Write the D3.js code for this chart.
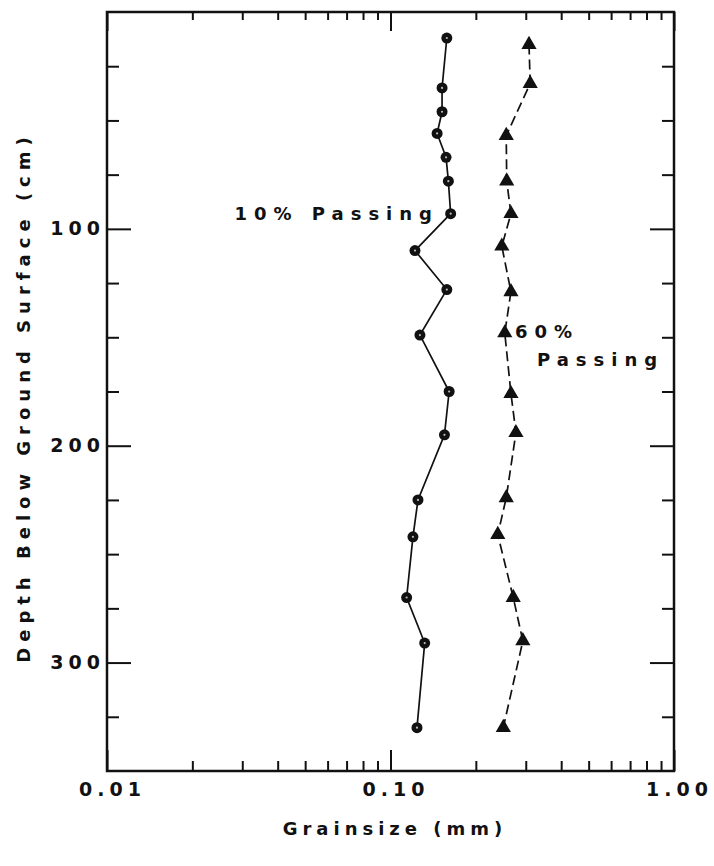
<!DOCTYPE html>
<html>
<head>
<meta charset="utf-8">
<script src="https://cdn.jsdelivr.net/npm/d3@7"></script>
<style>
  body { margin: 0; background: #fff; }
  svg text { font-family: "DejaVu Sans", sans-serif; font-weight: bold; fill: #111; }
</style>
</head>
<body>
<svg id="chart" width="714" height="866"></svg>
<script>
// 10% passing (circles)
const depth10 = [12, 35, 46, 56, 67, 78, 93, 110, 128, 149, 175, 195, 225, 242, 270, 291, 330];
const grain10 = [0.158, 0.152, 0.152, 0.146, 0.157, 0.160, 0.163, 0.122, 0.158, 0.127, 0.161, 0.155, 0.125, 0.120, 0.114, 0.132, 0.124];
// 60% passing (triangles)
const depth60 = [15, 33, 57, 78, 93, 108, 129, 148, 176, 194, 224, 241, 270, 290, 330];
const grain60 = [0.308, 0.311, 0.256, 0.257, 0.266, 0.247, 0.266, 0.253, 0.266, 0.277, 0.256, 0.239, 0.271, 0.293, 0.250];

const xMajor = [0.01, 0.1, 1];
const xLabels = ["0.01", "0.10", "1.00"];
const xMinor = [0.02, 0.03, 0.04, 0.05, 0.06, 0.07, 0.08, 0.09, 0.2, 0.3, 0.4, 0.5, 0.6, 0.7, 0.8, 0.9];
const yMajor = [100, 200, 300];
const yMinor = [25, 50, 75, 125, 150, 175, 225, 250, 275, 325];

const svg = d3.select("#chart");
const plotL = 107, plotR = 674, plotT = 12, plotB = 771;

const x = d3.scaleLog().domain([0.01, 1]).range([plotL, plotR]);
const y = d3.scaleLinear().domain([0, 350]).range([plotT, plotB]);

// frame
svg.append("rect")
  .attr("x", plotL).attr("y", plotT).attr("width", plotR - plotL).attr("height", plotB - plotT)
  .attr("fill", "none").attr("stroke", "#111").attr("stroke-width", 2.5);

const styleAxis = g => {
  g.select(".domain").remove();
  g.selectAll(".tick line").attr("stroke", "#111").attr("stroke-width", 2);
  g.attr("font-family", null).attr("font-size", null);
};

// bottom axis
svg.append("g").attr("transform", `translate(0,${plotB})`)
  .call(d3.axisBottom(x).tickValues(xMajor).tickSize(-21).tickPadding(12)
    .tickFormat((d, i) => xLabels[i]))
  .call(styleAxis)
  .selectAll("text").attr("font-size", 19).attr("letter-spacing", 5).attr("dx", 5);
svg.append("g").attr("transform", `translate(0,${plotB})`)
  .call(d3.axisBottom(x).tickValues(xMinor).tickSize(-10).tickFormat(""))
  .call(styleAxis);

// top axis
svg.append("g").attr("transform", `translate(0,${plotT})`)
  .call(d3.axisTop(x).tickValues(xMajor).tickSize(-19).tickFormat(""))
  .call(styleAxis);
svg.append("g").attr("transform", `translate(0,${plotT})`)
  .call(d3.axisTop(x).tickValues(xMinor).tickSize(-8).tickFormat(""))
  .call(styleAxis);

// left axis
svg.append("g").attr("transform", `translate(${plotL},0)`)
  .call(d3.axisLeft(y).tickValues(yMajor).tickSize(-24).tickPadding(2))
  .call(styleAxis)
  .selectAll("text").attr("font-size", 19).attr("letter-spacing", 5);
svg.append("g").attr("transform", `translate(${plotL},0)`)
  .call(d3.axisLeft(y).tickValues(yMinor).tickSize(-12).tickFormat(""))
  .call(styleAxis);

// right axis
svg.append("g").attr("transform", `translate(${plotR},0)`)
  .call(d3.axisRight(y).tickValues(yMajor).tickSize(-24).tickFormat(""))
  .call(styleAxis);
svg.append("g").attr("transform", `translate(${plotR},0)`)
  .call(d3.axisRight(y).tickValues(yMinor).tickSize(-12).tickFormat(""))
  .call(styleAxis);

// series
const pts10 = depth10.map((d, i) => ({ depth: d, size: grain10[i] }));
const pts60 = depth60.map((d, i) => ({ depth: d, size: grain60[i] }));
const line = d3.line().x(d => x(d.size)).y(d => y(d.depth));

svg.append("path").datum(pts10).attr("d", line)
  .attr("fill", "none").attr("stroke", "#111").attr("stroke-width", 1.7);
svg.append("path").datum(pts60).attr("d", line)
  .attr("fill", "none").attr("stroke", "#111").attr("stroke-width", 1.7)
  .attr("stroke-dasharray", "10,5");

svg.selectAll("circle.p10").data(pts10).enter().append("circle")
  .attr("class", "p10")
  .attr("cx", d => x(d.size)).attr("cy", d => y(d.depth)).attr("r", 5.5)
  .attr("fill", "#111");
svg.selectAll("circle.c10").data(pts10).enter().append("circle")
  .attr("class", "c10")
  .attr("cx", d => x(d.size)).attr("cy", d => y(d.depth)).attr("r", 1.1)
  .attr("fill", "#bbb");

svg.selectAll("path.p60").data(pts60).enter().append("path")
  .attr("class", "p60")
  .attr("d", d3.symbol(d3.symbolTriangle, 100))
  .attr("transform", d => `translate(${x(d.size)},${y(d.depth)})`)
  .attr("fill", "#111");

// labels
svg.append("text").attr("x", 439).attr("y", 220).attr("text-anchor", "end")
  .attr("font-size", 18).attr("letter-spacing", 7).text("10% Passing");
svg.append("text").attr("x", 515).attr("y", 338)
  .attr("font-size", 18).attr("letter-spacing", 7).text("60%");
svg.append("text").attr("x", 537).attr("y", 366)
  .attr("font-size", 18).attr("letter-spacing", 7).text("Passing");

svg.append("text").attr("x", 395).attr("y", 835).attr("text-anchor", "middle")
  .attr("font-size", 18).attr("letter-spacing", 5).text("Grainsize (mm)");
svg.append("text").attr("transform", "translate(30,397) rotate(-90)")
  .attr("text-anchor", "middle")
  .attr("font-size", 18).attr("letter-spacing", 6).text("Depth Below Ground Surface (cm)");
</script>
</body>
</html>
